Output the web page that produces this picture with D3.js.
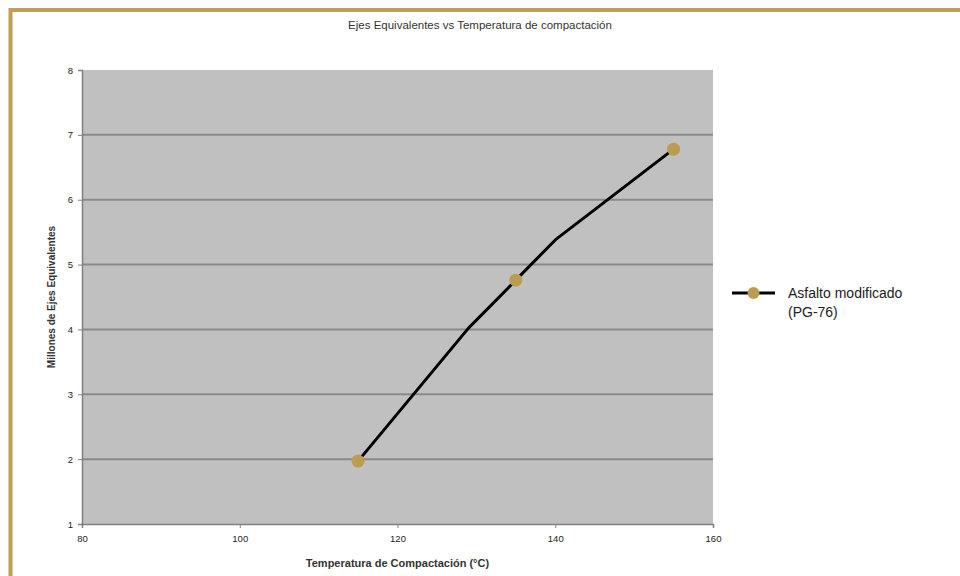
<!DOCTYPE html>
<html>
<head>
<meta charset="utf-8">
<script src="https://cdn.jsdelivr.net/npm/d3@7"></script>
<style>
  body { margin: 0; background: #ffffff; }
  text { font-family: "Liberation Sans", Arial, sans-serif; fill: #222; }
</style>
</head>
<body>
<div id="viz"></div>
<script>
// data
const temperaturas = [115, 129, 135, 140, 155];
const ejesEquivalentes = [1.97, 4.02, 4.76, 5.38, 6.78];
const conMarcador = [true, false, true, false, true];
const xTicks = [80, 100, 120, 140, 160];
const yTicks = [1, 2, 3, 4, 5, 6, 7, 8];
const serieNombre = ["Asfalto modificado", "(PG-76)"];

async function draw() {

  const data = temperaturas.map((t, i) => ({ t, v: ejesEquivalentes[i], m: conMarcador[i] }));
  const xAccessor = d => d.t;
  const yAccessor = d => d.v;

  // dimensions
  const dms = {
    width: 960,
    height: 576,
    margins: { top: 70, bottom: 52, left: 82, right: 247 }
  };
  dms.innerWidth = dms.width - dms.margins.left - dms.margins.right;
  dms.innerHeight = dms.height - dms.margins.top - dms.margins.bottom;

  const svg = d3.select("#viz")
                  .append("svg")
                    .attr("width", dms.width)
                    .attr("height", dms.height);

  // frame
  svg.append("rect")
      .attr("x", 10.5)
      .attr("y", 10)
      .attr("width", 1000)
      .attr("height", 700)
      .attr("fill", "none")
      .attr("stroke", "#bf9f55")
      .attr("stroke-width", 4);

  // title
  svg.append("text")
      .attr("x", 480)
      .attr("y", 29)
      .attr("text-anchor", "middle")
      .style("font-size", "11.5px")
      .style("fill", "#333")
      .text("Ejes Equivalentes vs Temperatura de compactación");

  const g = svg.append("g")
                .attr("transform", `translate(${dms.margins.left},${dms.margins.top})`);

  // scales
  const xScale = d3.scaleLinear()
                    .domain([80, 160])
                    .range([0, dms.innerWidth]);

  const yScale = d3.scaleLinear()
                    .domain([1, 8])
                    .range([dms.innerHeight, 0]);

  // plot area
  g.append("rect")
      .attr("width", dms.innerWidth)
      .attr("height", dms.innerHeight)
      .attr("fill", "#c0c0c0");

  // gridlines
  g.selectAll(".grid")
    .data(yTicks.filter(v => v > 1 && v < 8))
    .enter()
    .append("line")
      .attr("class", "grid")
      .attr("x1", 0)
      .attr("x2", dms.innerWidth)
      .attr("y1", d => yScale(d))
      .attr("y2", d => yScale(d))
      .attr("stroke", "#8a8a8a")
      .attr("stroke-width", 2);

  // axes
  const yAxis = d3.axisLeft(yScale)
                  .tickValues(yTicks)
                  .tickSize(4)
                  .tickPadding(5)
                  .tickFormat(d3.format("d"));

  const xAxis = d3.axisBottom(xScale)
                  .tickValues(xTicks)
                  .tickSize(4)
                  .tickPadding(7)
                  .tickFormat(d3.format("d"));

  const yAxisG = g.append("g").call(yAxis);
  const xAxisG = g.append("g")
                  .attr("transform", `translate(0,${dms.innerHeight})`)
                  .call(xAxis);

  [yAxisG, xAxisG].forEach(a => {
    a.select(".domain").attr("stroke", "#808080").attr("stroke-width", 1.5);
    a.selectAll(".tick line").attr("stroke", "#808080");
    a.selectAll(".tick text")
      .style("font-size", "9.5px")
      .style("font-family", "'Liberation Sans', Arial, sans-serif")
      .attr("fill", "#444");
  });

  // axis titles
  g.append("text")
      .attr("x", dms.innerWidth / 2)
      .attr("y", dms.innerHeight + 43)
      .attr("text-anchor", "middle")
      .style("font-size", "11px")
      .style("font-weight", "bold")
      .style("fill", "#333")
      .text("Temperatura de Compactación (°C)");

  g.append("text")
      .attr("transform", `translate(-27,${dms.innerHeight / 2}) rotate(-90)`)
      .attr("text-anchor", "middle")
      .style("font-size", "10px")
      .style("font-weight", "bold")
      .style("fill", "#333")
      .text("Millones de Ejes Equivalentes");

  // series
  const line = d3.line()
                  .x(d => xScale(xAccessor(d)))
                  .y(d => yScale(yAccessor(d)));

  g.append("path")
      .datum(data)
      .attr("d", line)
      .attr("fill", "none")
      .attr("stroke", "#000")
      .attr("stroke-width", 3)
      .attr("stroke-linejoin", "round");

  g.selectAll(".marker")
    .data(data.filter(d => d.m))
    .enter()
    .append("circle")
      .attr("class", "marker")
      .attr("cx", d => xScale(xAccessor(d)))
      .attr("cy", d => yScale(yAccessor(d)))
      .attr("r", 6.5)
      .attr("fill", "#bc9c50");

  // legend
  const legend = svg.append("g")
                      .attr("transform", "translate(732,293)");

  legend.append("line")
      .attr("x1", 0)
      .attr("x2", 43)
      .attr("stroke", "#000")
      .attr("stroke-width", 3);

  legend.append("circle")
      .attr("cx", 21.5)
      .attr("r", 6)
      .attr("fill", "#bc9c50");

  legend.selectAll(".leg-text")
    .data(serieNombre)
    .enter()
    .append("text")
      .attr("class", "leg-text")
      .attr("x", 56)
      .attr("y", (d, i) => 5 + i * 19)
      .style("font-size", "14px")
      .text(d => d);
}

draw();
</script>
</body>
</html>
